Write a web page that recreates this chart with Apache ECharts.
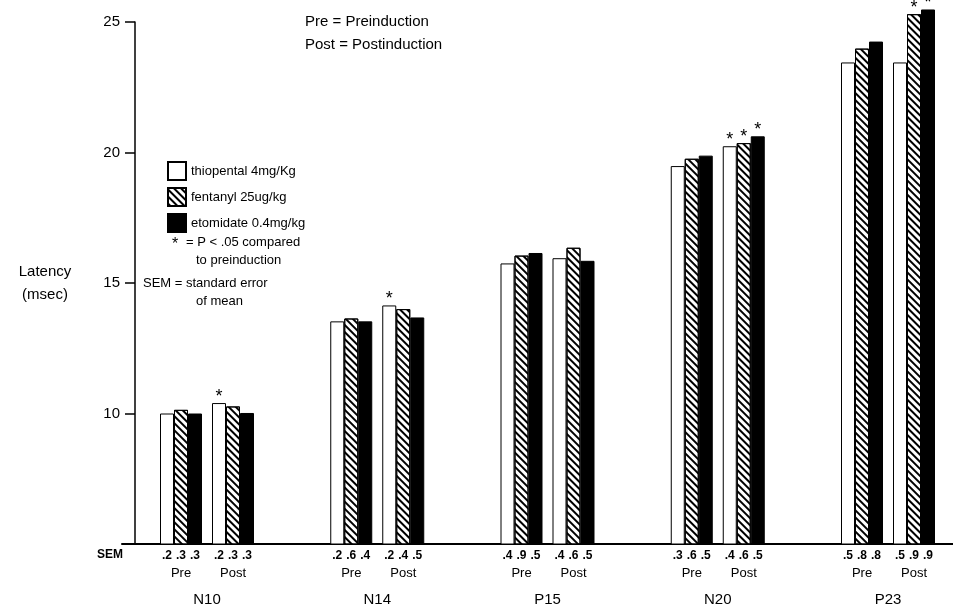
<!DOCTYPE html>
<html lang="en">
<head>
<meta charset="utf-8">
<title>Latency</title>
<script src="https://cdn.jsdelivr.net/npm/echarts@6/dist/echarts.min.js"></script>
<style>
    html, body { margin: 0; padding: 0; background: #fff; }
    #chart { width: 953px; height: 607px; }
</style>
</head>
<body>
<div id="chart"></div>
<script>
// groups on the x axis
var groups = ['N10', 'N14', 'P15', 'N20', 'P23'];
var drugs = ['thiopental 4mg/Kg', 'fentanyl 25ug/kg', 'etomidate 0.4mg/kg'];

// latency (msec), pre / post induction
var thioPre  = [10.0, 13.53, 15.75, 19.48, 23.45];
var fentPre  = [10.14, 13.64, 16.05, 19.76, 23.98];
var etoPre   = [10.0, 13.53, 16.15, 19.88, 24.25];
var thioPost = [10.4, 14.14, 15.95, 20.24, 23.45];
var fentPost = [10.27, 14.0, 16.35, 20.36, 25.3];
var etoPost  = [10.02, 13.68, 15.85, 20.62, 25.48];

// SEM printed under each bar
var semThioPre  = ['.2', '.2', '.4', '.3', '.5'];
var semFentPre  = ['.3', '.6', '.9', '.6', '.8'];
var semEtoPre   = ['.3', '.4', '.5', '.5', '.8'];
var semThioPost = ['.2', '.2', '.4', '.4', '.5'];
var semFentPost = ['.3', '.4', '.6', '.6', '.9'];
var semEtoPost  = ['.3', '.5', '.5', '.5', '.9'];

// * = P < .05 compared to preinduction
var sigThio = [1, 1, 0, 1, 0];
var sigFent = [0, 0, 0, 1, 1];
var sigEto  = [0, 0, 0, 1, 1];

var yTicks = [10, 15, 20, 25];

var font = 'Liberation Sans, Arial, sans-serif';

// the bars sit in a grid whose value axis runs a little past 25,
// the drawn y axis stops at 25 (same scale, 26.1 px per msec)
var pxPerUnit = 522 / 20;
var barMax = 25.6;

var thioStyle = { color: '#fff', borderColor: '#000', borderWidth: 1 };
var fentStyle = {
    color: '#fff', borderColor: '#000', borderWidth: 1,
    decal: {
        symbol: 'rect', symbolSize: 1, color: '#000',
        dashArrayX: [1, 0], dashArrayY: [2, 2.6], rotation: Math.PI / 4
    }
};
var etoStyle = { color: '#000', borderColor: '#000', borderWidth: 1 };

function barSeries(name, values, sem, tag, stack, style) {
    return {
        name: name,
        type: 'bar',
        xAxisIndex: 1,
        yAxisIndex: 1,
        stack: stack,
        barWidth: 14,
        barGap: '0%',
        silent: true,
        itemStyle: style,
        label: {
            show: true,
            position: 'bottom',
            distance: 4,
            formatter: function (p) {
                var s = '{s|' + sem[p.dataIndex] + '}';
                return tag ? s + '\n{p|' + tag + '}' : s;
            },
            rich: {
                s: { fontSize: 12, fontWeight: 'bold', color: '#000', lineHeight: 14, fontFamily: font },
                p: { fontSize: 13, color: '#000', lineHeight: 22, fontFamily: font }
            }
        },
        data: values
    };
}

function starSeries(stack, sig) {
    return {
        name: 'sig',
        type: 'bar',
        xAxisIndex: 1,
        yAxisIndex: 1,
        stack: stack,
        barWidth: 14,
        barGap: '0%',
        silent: true,
        itemStyle: { color: 'transparent' },
        label: {
            show: true, position: 'top', distance: -3,
            formatter: '*', fontSize: 18, color: '#000', fontFamily: font
        },
        data: sig.map(function (v) { return v ? 0 : null; })
    };
}

var series = [
    barSeries(drugs[0], thioPre, semThioPre, '', 'tPre', thioStyle),
    barSeries(drugs[1], fentPre, semFentPre, 'Pre', 'fPre', fentStyle),
    barSeries(drugs[2], etoPre, semEtoPre, '', 'ePre', etoStyle),
    // empty slot between Pre and Post
    { name: 'gap', type: 'bar', xAxisIndex: 1, yAxisIndex: 1, stack: 'gap', barWidth: 10, barGap: '0%', silent: true, data: [] },
    barSeries(drugs[0], thioPost, semThioPost, '', 'tPost', thioStyle),
    barSeries(drugs[1], fentPost, semFentPost, 'Post', 'fPost', fentStyle),
    barSeries(drugs[2], etoPost, semEtoPost, '', 'ePost', etoStyle),
    starSeries('tPost', sigThio),
    starSeries('fPost', sigFent),
    starSeries('ePost', sigEto)
];

function txt(x, y, text, size, extra) {
    var style = { x: x, y: y, text: text, fill: '#000', font: size + 'px ' + font, textVerticalAlign: 'middle' };
    for (var k in extra) { style[k] = extra[k]; }
    return { type: 'text', style: style, silent: true };
}

var myChart = echarts.init(document.getElementById('chart'));
var option = {
    animation: false,
    backgroundColor: '#fff',
    textStyle: { fontFamily: font },
    grid: [
        // frame: y axis and the long baseline
        { left: 122, top: 22, right: 0, height: 522 },
        // bars: group centres sit on the ticks, 170 px apart
        { left: 207, top: 22 - (barMax - 25) * pxPerUnit, width: 681, height: 522 + (barMax - 25) * pxPerUnit }
    ],
    legend: {
        orient: 'vertical',
        left: 162,
        top: 156,
        icon: 'rect',
        itemWidth: 18,
        itemHeight: 18,
        itemGap: 6,
        selectedMode: false,
        data: drugs,
        textStyle: { fontSize: 13, color: '#000', fontFamily: font }
    },
    xAxis: [
        {
            type: 'category', gridIndex: 0, data: groups,
            axisTick: { show: false },
            axisLabel: { show: false },
            axisLine: { lineStyle: { color: '#000', width: 2 } }
        },
        {
            type: 'category',
            gridIndex: 1,
            data: groups,
            boundaryGap: false,
            axisTick: { show: false },
            axisLine: { show: false },
            axisLabel: { margin: 48, fontSize: 15, color: '#000' }
        }
    ],
    yAxis: [
        {
            type: 'value',
            gridIndex: 0,
            min: 5,
            max: 25,
            interval: 5,
            offset: -13,
            name: 'Latency\n(msec)',
            nameLocation: 'middle',
            nameRotate: 0,
            nameGap: 90,
            nameTextStyle: { fontSize: 15, color: '#000', align: 'center', lineHeight: 23 },
            splitLine: { show: false },
            axisLine: { show: true, lineStyle: { color: '#000', width: 1.5 } },
            axisTick: { show: true, length: 10, lineStyle: { color: '#000', width: 1.5 } },
            axisLabel: {
                margin: 15, fontSize: 15, color: '#000',
                formatter: function (v) { return yTicks.indexOf(v) >= 0 ? String(v) : ''; }
            }
        },
        { type: 'value', gridIndex: 1, min: 5, max: barMax, show: false, splitLine: { show: false } }
    ],
    graphic: [
        txt(305, 22, 'Pre = Preinduction', 15),
        txt(305, 45, 'Post = Postinduction', 15),
        txt(172, 245, '*', 16),
        txt(186, 242, '= P < .05 compared', 13),
        txt(196, 260, 'to preinduction', 13),
        txt(143, 283, 'SEM = standard error', 13),
        txt(196, 301, 'of mean', 13),
        txt(123, 555, 'SEM', 12, { textAlign: 'right', font: 'bold 12px ' + font })
    ],
    series: series
};
myChart.setOption(option);
</script>
</body>
</html>
